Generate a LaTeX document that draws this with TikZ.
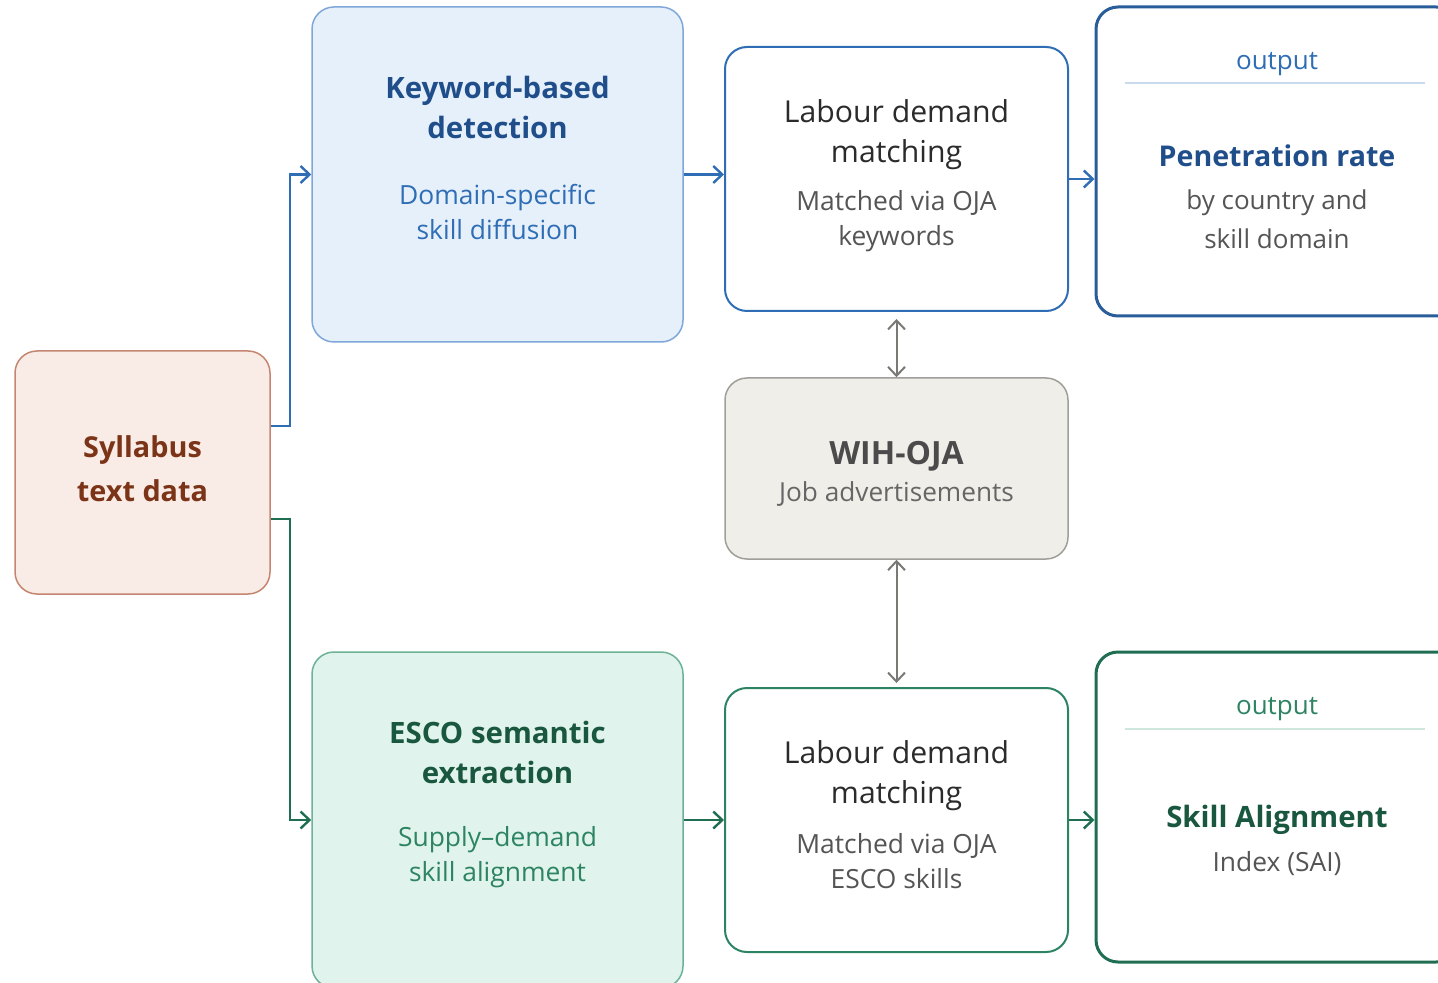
\documentclass[tikz,border=0pt]{standalone}
\usepackage{fontspec}
\setmainfont{Open Sans}
\usetikzlibrary{positioning,arrows.meta}

% palette
\definecolor{kwfill}{HTML}{E6F0FB}
\definecolor{kwline}{HTML}{7FA7D9}
\definecolor{bluedark}{HTML}{1F4E8A}
\definecolor{bluemid}{HTML}{2F6DB5}
\definecolor{bluerule}{HTML}{C9DAEE}
\definecolor{sylfill}{HTML}{F9EBE5}
\definecolor{sylline}{HTML}{C48670}
\definecolor{syltext}{HTML}{7B3417}
\definecolor{wihfill}{HTML}{F0EEE9}
\definecolor{wihline}{HTML}{A09E98}
\definecolor{escofill}{HTML}{E0F3EC}
\definecolor{escoline}{HTML}{6DB197}
\definecolor{greendark}{HTML}{19573F}
\definecolor{greenmid}{HTML}{2D8463}
\definecolor{greenline}{HTML}{1F6E52}
\definecolor{greenrule}{HTML}{CFE6DC}
\definecolor{txtdark}{HTML}{2B2B2B}
\definecolor{txtgray}{HTML}{555555}
\definecolor{arrgray}{HTML}{7A7A75}

\tikzset{
  box/.style={draw, rounded corners=11pt, line width=0.75pt, inner sep=0pt},
  sylbox/.style={box, fill=sylfill, draw=sylline, minimum width=127.5pt, minimum height=121.5pt},
  kwbox/.style={box, fill=kwfill, draw=kwline, minimum width=185.5pt, minimum height=167.5pt},
  escobox/.style={box, fill=escofill, draw=escoline, minimum width=185.5pt, minimum height=168pt},
  labbox/.style={box, fill=white, line width=1pt, minimum width=171.5pt, minimum height=132pt},
  wihbox/.style={box, fill=wihfill, draw=wihline, minimum width=171.5pt, minimum height=90.5pt},
  outbox/.style={box, fill=white, line width=1.5pt, minimum width=181pt},
  headtxt/.style={align=center, font=\bfseries\fontsize{14.7}{20}\selectfont},
  subtxt/.style={align=center, font=\fontsize{13.2}{17.5}\selectfont},
  labtxt/.style={align=center, text=txtdark, font=\fontsize{15.1}{20}\selectfont},
  outtxt/.style={font=\fontsize{13}{14}\selectfont},
  arr/.style={line width=1.2pt, -{Straight Barb[length=4.5pt,width=8.5pt]}},
  dblarr/.style={draw=arrgray, line width=1pt, {Straight Barb[length=4.5pt,width=8.5pt]}-{Straight Barb[length=4.5pt,width=8.5pt]}},
}

\begin{document}
\begin{tikzpicture}[x=0.5pt,y=-0.5pt]
  \clip (0,0) rectangle (1438,983);

  % boxes
  \node[sylbox] (syl) at (142.5,472.5) {};
  \node[kwbox] (kw) at (497.5,174.5) {};
  \node[escobox] (esco) at (497.5,820) {};
  \node[labbox, draw=bluemid] (lab1) at (896.5,179) {};
  \node[labbox, draw=greenmid] (lab2) at (896.5,820) {};
  \node[wihbox] (wih) at (896.5,468.5) {};
  \node[outbox, draw=bluemid!85!black, minimum height=154.5pt] (out1) at (1277,161.5) {};
  \node[outbox, draw=greenline, minimum height=155pt] (out2) at (1277,807) {};

  % texts
  \node[headtxt, text=syltext, font=\bfseries\fontsize{14.4}{22}\selectfont] (sylT) at (142.5,469) {Syllabus\\text data};
  \node[headtxt, text=bluedark] (kwT) at (497.5,107) {Keyword-based\\detection};
  \node[subtxt, text=bluemid] (kwS) at (497.5,212) {Domain-specific\\skill diffusion};
  \node[headtxt, text=greendark] (escoT) at (497.5,752) {ESCO semantic\\extraction};
  \node[subtxt, text=greenmid] (escoS) at (497.5,857) {Supply–demand\\skill alignment};
  \node[labtxt] (lab1T) at (896.5,135) {Labour demand\\matching};
  \node[subtxt, text=txtgray] (lab1S) at (896.5,221) {Matched via OJA\\keywords};
  \node[labtxt] (lab2T) at (896.5,776) {Labour demand\\matching};
  \node[subtxt, text=txtgray] (lab2S) at (896.5,861) {Matched via OJA\\ESCO skills};
  \node[headtxt, text=txtdark!85, font=\bfseries\fontsize{16}{20}\selectfont] (wihT) at (896.5,456) {WIH-OJA};
  \node[subtxt, text=txtgray!90, font=\fontsize{13.1}{17.5}\selectfont] (wihS) at (896.5,494) {Job advertisements};

  % output panels
  \node[outtxt, text=bluemid] (out1L) at (1277,64) {output};
  \draw[bluerule, line width=0.75pt] (1125,83) -- (1425,83);
  \node[headtxt, text=bluedark, font=\bfseries\fontsize{14.3}{20}\selectfont] (out1T) at (1277,156) {Penetration rate};
  \node[subtxt, text=txtgray, font=\fontsize{13}{19.5}\selectfont] (out1S) at (1277,219.5) {by country and\\skill domain};
  \node[outtxt, text=greenmid] (out2L) at (1277,709) {output};
  \draw[greenrule, line width=0.75pt] (1125,729) -- (1425,729);
  \node[headtxt, text=greendark, font=\bfseries\fontsize{14.7}{20}\selectfont] (out2T) at (1277,820) {Skill Alignment};
  \node[subtxt, text=txtgray] (out2S) at (1277,864) {Index (SAI)};

  % connectors
  \draw[arr, bluemid] (syl.east |- 0,426) -| ([xshift=-10.5pt]kw.west) -- (kw.west);
  \draw[arr, greenline] (syl.east |- 0,519) -| ([xshift=-10.5pt]esco.west) -- (esco.west);
  \draw[arr, bluemid] (kw.east) -- (kw.east -| lab1.west);
  \draw[arr, bluemid] (lab1.east) -- (lab1.east -| out1.west);
  \draw[arr, greenline] (esco.east) -- (esco.east -| lab2.west);
  \draw[arr, greenline] (lab2.east) -- (lab2.east -| out2.west);
  \draw[dblarr] ([yshift=-3.5pt]lab1.south) -- (wih.north);
  \draw[dblarr] (wih.south) -- ([yshift=2pt]lab2.north);
\end{tikzpicture}
\end{document}
